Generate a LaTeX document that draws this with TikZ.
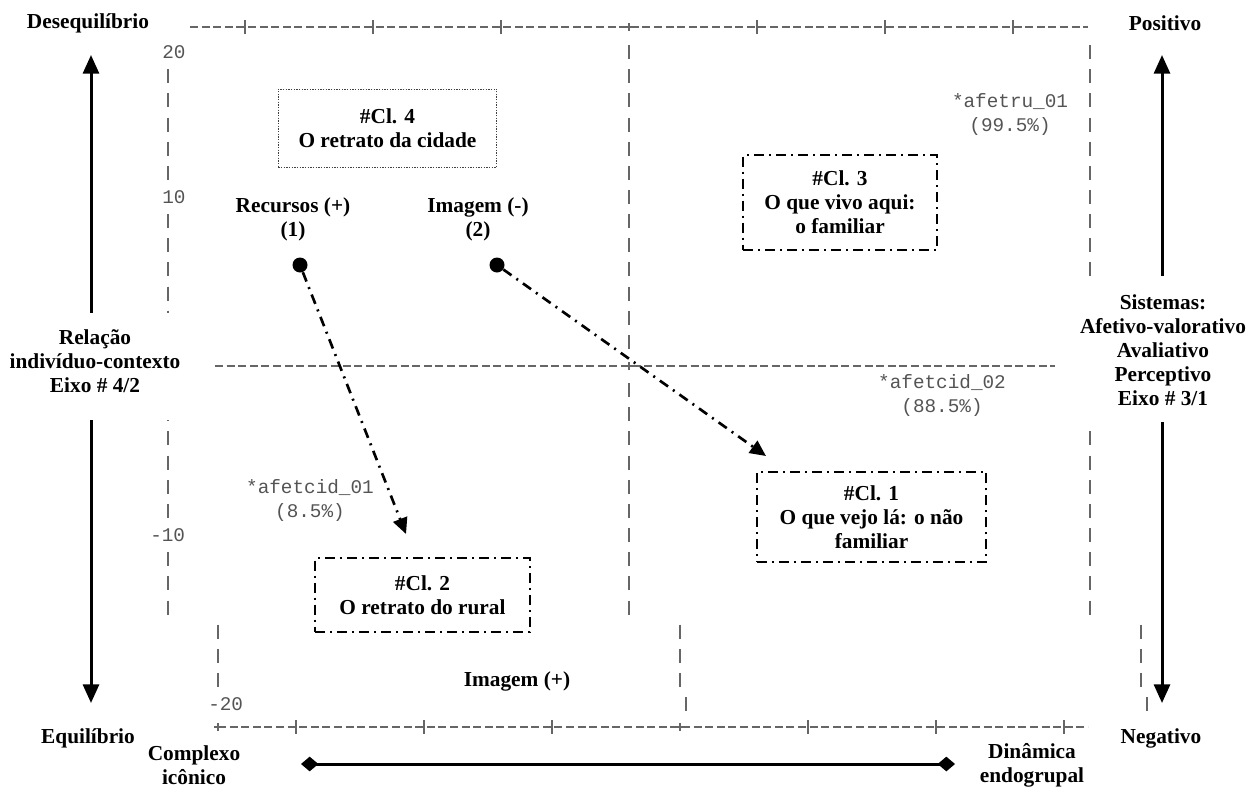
\documentclass[tikz,border=0pt]{standalone}
\usepackage{fontspec}
\setmainfont{Liberation Serif}
\setmonofont{Liberation Mono}
\usetikzlibrary{arrows.meta}

\definecolor{gridgray}{rgb}{0.40,0.40,0.40}
\definecolor{textgray}{rgb}{0.33,0.33,0.33}

% row of the character plot (1 row = 24.15 px)
\newcommand{\rowy}[1]{366+24.15*(#1)}

\tikzset{
  boldlbl/.style={font=\fontsize{16}{18}\selectfont\bfseries, align=center, inner sep=0pt},
  monolbl/.style={font=\fontsize{14.5}{18}\selectfont\ttfamily, text=textgray, inner sep=0pt, align=center},
  plotline/.style={draw=gridgray, line width=0.8pt, dash pattern=on 6pt off 2.7pt},
  plotbar/.style={draw=gridgray, line width=0.8pt},
  coverbox/.style={fill=white, inner sep=0pt},
  clbox/.style={boldlbl, draw, line width=1.5pt, dash pattern=on 7.5pt off 3.75pt on 1.5pt off 3.75pt},
  citybox/.style={boldlbl, draw=black!75, line width=0.7pt, dash pattern=on 1pt off 1pt},
  sidearrow/.style={line width=2.25pt, -{Triangle[width=12pt,length=14pt]}},
  flowarrow/.style={line width=2pt, dash pattern=on 7.5pt off 4.5pt on 1.5pt off 4.5pt, -{Triangle[width=11pt,length=12pt]}},
  poledot/.style={circle, fill=black, inner sep=0pt, minimum size=11.25pt},
}

\begin{document}
\begin{tikzpicture}[x=0.75pt,y=-0.75pt]
\useasboundingbox (0,0) rectangle (1249,789);

% character plot: horizontal lines
\draw[plotline] (190,27) -- (1088,27);
\draw[plotline] (215,366) -- (1055,366);
\draw[plotline] (218,727) -- (1088,727);
\foreach \x in {245,373,501,757,885,1013}
  \draw[plotbar] (\x,20) -- (\x,34);
\foreach \x in {296,424,552,808,936,1064}
  \draw[plotbar] (\x,720) -- (\x,734);
\foreach \x/\y in {629/27,629/366,218/727,680/727}
  \draw[plotbar] (\x,\y-4) -- (\x,\y+4) (\x-4,\y) -- (\x+4,\y);

% character plot: vertical columns
\foreach \k in {-12,...,-8,-6,-5,...,6,8,9,10}
  \draw[plotbar] (168,{\rowy{\k}-7}) -- (168,{\rowy{\k}+7});
\foreach \k in {-13,...,-1,1,2,...,10}
  \draw[plotbar] (629,{\rowy{\k}-7}) -- (629,{\rowy{\k}+7});
\foreach \k in {-13,...,10}
  \draw[plotbar] (1090,{\rowy{\k}-7}) -- (1090,{\rowy{\k}+7});
\foreach \k in {11,12,13} {
  \draw[plotbar] (218,{\rowy{\k}-7}) -- (218,{\rowy{\k}+7});
  \draw[plotbar] (680,{\rowy{\k}-7}) -- (680,{\rowy{\k}+7});
  \draw[plotbar] (1141,{\rowy{\k}-7}) -- (1141,{\rowy{\k}+7});
}
\draw[plotbar] (686,{\rowy{14}-7}) -- (686,{\rowy{14}+7});
\draw[plotbar] (1147,{\rowy{14}-7}) -- (1147,{\rowy{14}+7});

% scale values
\node[monolbl, anchor=west] (v20) at (162,{\rowy{-13}}) {20};
\node[monolbl, anchor=west] (v10) at (162,{\rowy{-7}}) {10};
\node[monolbl, anchor=west] (vm10) at (150,{\rowy{7}}) {-10};
\node[monolbl, anchor=west] (vm20) at (208,{\rowy{14}}) {-20};

% variables
\node[monolbl] (afetru) at (1010,114) {*afetru\_01\\(99.5\%)};
\node[monolbl] (afetcid2) at (942,395) {*afetcid\_02\\(88.5\%)};
\node[monolbl] (afetcid1) at (310,500) {*afetcid\_01\\(8.5\%)};

% axis 4/2
\node[coverbox, minimum width=133pt, minimum height=80pt] (relbox) at (95,366.5) {};
\node[boldlbl] (relacao) at (95,361) {Relação\\indivíduo-contexto\\Eixo \# 4/2};
\coordinate (reltop) at (91,55);
\coordinate (relbot) at (91,703);
\draw[sidearrow] (relbox.north -| reltop) -- (reltop);
\draw[sidearrow] (relbox.south -| relbot) -- (relbot);
\node[boldlbl] (deseq) at (88,23) {Desequilíbrio};
\node[boldlbl] (equil) at (88,738) {Equilíbrio};

% axis 3/1
\node[coverbox, minimum height=109.5pt, minimum width=129pt] (sisbox) at (1163,349) {};
\node[boldlbl] (sistemas) at (1163,350) {Sistemas:\\Afetivo-valorativo\\Avaliativo\\Perceptivo\\Eixo \# 3/1};
\coordinate (sistop) at (1162,55);
\coordinate (sisbot) at (1162,703);
\draw[sidearrow] (sisbox.north -| sistop) -- (sistop);
\draw[sidearrow] (sisbox.south -| sisbot) -- (sisbot);
\node[boldlbl] (posit) at (1165,23) {Positivo};
\node[boldlbl] (negat) at (1161,738) {Negativo};

% bottom axis
\node[boldlbl] (complexo) at (194,765) {Complexo\\icônico};
\node[boldlbl] (dinamica) at (1032,765) {Dinâmica\\endogrupal};
\coordinate (dleft) at (301,764);
\coordinate (dright) at (955,764);
\draw[line width=2.25pt, {Diamond[length=13pt,width=11pt]}-{Diamond[length=13pt,width=11pt]}] (dleft) -- (dright);
\node[boldlbl] (imagempos) at (517,681) {Imagem (+)};

% classes
\node[citybox, minimum width=164pt, minimum height=58.5pt] (cl4) at (387.5,128) {\#Cl. 4\\O retrato da cidade};
\node[clbox, minimum width=145.5pt, minimum height=71pt] (cl3) at (840,202.5) {\#Cl. 3\\O que vivo aqui:\\o familiar};
\node[clbox, minimum width=172pt, minimum height=67.5pt] (cl1) at (871.5,517) {\#Cl. 1\\O que vejo lá: o não\\familiar};
\node[clbox, minimum width=161pt, minimum height=55.5pt] (cl2) at (422.5,595) {\#Cl. 2\\O retrato do rural};

% poles and trajectories
\node[boldlbl] (recursos) at (293,219.5) {Recursos (+)\\(1)};
\node[boldlbl] (imagemneg) at (478,219.5) {Imagem (-)\\(2)};
\node[poledot] (dot1) at (300,265) {};
\node[poledot] (dot2) at (497,265) {};
\coordinate (tip1) at (406,534);
\coordinate (tip2) at (766,456);
\draw[flowarrow] (dot1) -- (tip1);
\draw[flowarrow] (dot2) -- (tip2);
\end{tikzpicture}
\end{document}
